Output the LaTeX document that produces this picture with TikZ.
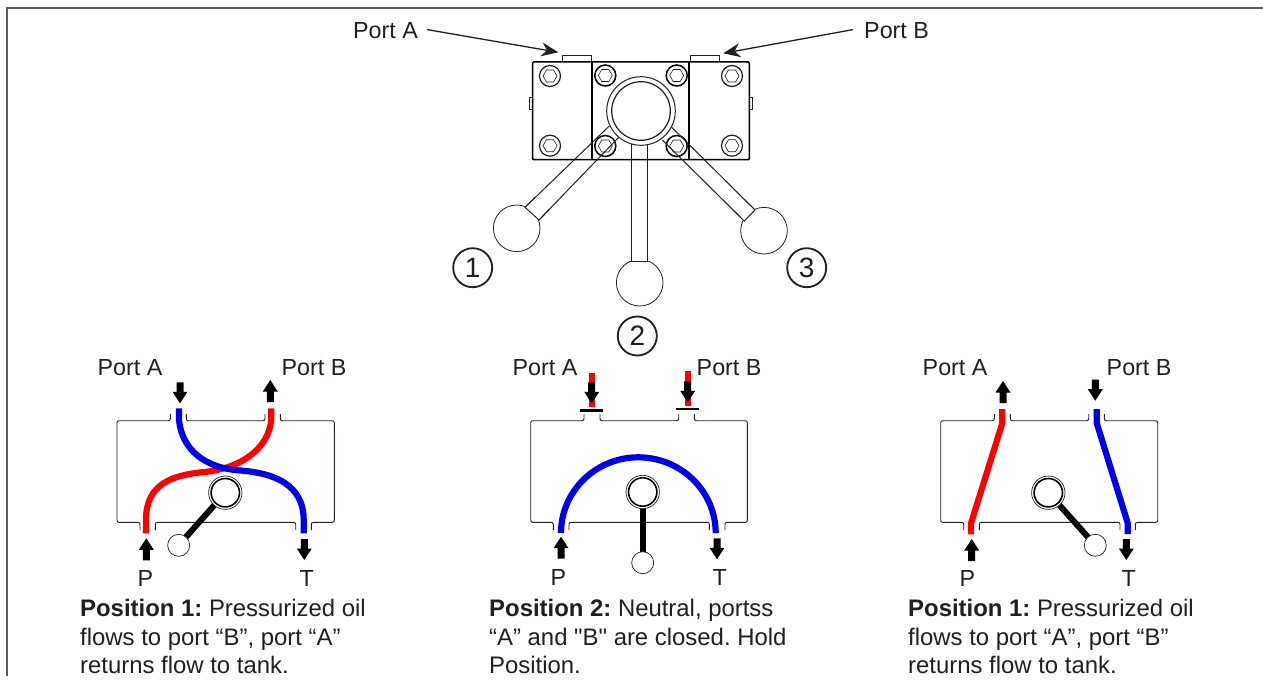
\documentclass[tikz,border=0pt]{standalone}
\usepackage{fontspec}
\setmainfont{Liberation Sans}
\newfontfamily\plainq{Liberation Sans}
\usetikzlibrary{arrows.meta}
\definecolor{tcol}{HTML}{231F20}
\tikzset{
  x=1pt,y=-1pt,
  wall/.style={draw=tcol,line width=0.9pt,rounded corners=2pt},
  hyd/.style={line width=6.2pt,line cap=butt},
  redflow/.style={hyd,draw=red},
  blueflow/.style={hyd,draw={rgb,255:red,0;green,0;blue,230}},
  lbl/.style={inner sep=0pt,font=\fontsize{23.3}{26}\selectfont,text=tcol},
  para/.style={inner sep=0pt,align=left,anchor=north west,text=tcol,font=\fontsize{23.9}{28.6}\selectfont\frenchspacing},
  numring/.style={circle,draw=tcol,line width=1.8pt,minimum size=39pt,inner sep=0pt,text=tcol,font=\fontsize{28}{30}\selectfont},
  leader/.style={draw=tcol,line width=1.3pt,-{Stealth[length=17pt,width=14pt]}},
  outline/.style={draw=tcol,line width=0.9pt},
  heavy/.style={draw=black,line width=1.5pt},
  arrdown/.pic={\fill[black] (-3.5,-21)--(3.5,-21)--(3.5,-11.5)--(7.5,-11.5)--(0,0)--(-7.5,-11.5)--(-3.5,-11.5)--cycle;},
  arrup/.pic={\fill[black] (-3.5,22)--(3.5,22)--(3.5,11.5)--(7.5,11.5)--(0,0)--(-7.5,11.5)--(-3.5,11.5)--cycle;},
  boltpic/.pic={\draw[#1] (0,0) circle (10.5pt);
    \draw[outline,line width=0.6pt] (7,0)--(3.5,6)--(-3.5,6)--(-7,0)--(-3.5,-6)--(3.5,-6)--cycle;},
}
% body outline: left right ta1 tb2 bp1 bp2 bt1 bt2
\newcommand{\valvebody}[8]{%
  \draw[wall] (#3,414) -- (#3,420.7) -- (#1,420.7) -- (#1,522.3) -- (#5,522.3) -- (#5,530);
  \draw[wall] (#6,530) -- (#6,522.3) -- (#7,522.3) -- (#7,530);
  \draw[wall] (#8,530) -- (#8,522.3) -- (#2,522.3) -- (#2,420.7) -- (#4,420.7) -- (#4,414)}
\begin{document}
\begin{tikzpicture}
\useasboundingbox (0,0) rectangle (1263,685);
\fill[white] (0,0) rectangle (1263,685);
% frame
\draw[draw=tcol!75,line width=1.7pt] (7,676) -- (7,8) -- (1263,8);

% ---- top view -----
\draw[outline,line width=1pt] (562.3,62) -- (562.3,55.5) -- (591.3,55.5) -- (591.3,62);
\draw[outline,line width=1pt] (690.7,62) -- (690.7,55.5) -- (719.3,55.5) -- (719.3,62);
\draw[outline,line width=0.8pt] (532.5,97.7) -- (529,97.7) -- (529,109.3) -- (532.5,109.3);
\draw[outline,line width=0.8pt] (749.5,97.7) -- (752.7,97.7) -- (752.7,109.3) -- (749.5,109.3);
\draw[heavy,fill=white,rounded corners=1pt] (532.7,62) rectangle (749.3,159.7);
\draw[heavy] (592,62) -- (592,159.7);
\draw[heavy] (689,62) -- (689,159.7);
\pic at (550,76) {boltpic={outline,line width=1.2pt}};
\pic at (732,76) {boltpic={outline,line width=1.2pt}};
\pic at (550,145.7) {boltpic={outline,line width=1.2pt}};
\pic at (732,145.7) {boltpic={outline,line width=1.2pt}};
\pic at (605.3,75.5) {boltpic={heavy}};
\pic at (676.7,75.5) {boltpic={heavy}};
\pic at (605.3,146) {boltpic={heavy}};
\pic at (676.7,146) {boltpic={heavy}};
% handles
\draw[outline,line width=1pt] (631.7,144) -- (631.7,261.7) -- (647.3,261.7) -- (647.3,144);
\draw[outline,line width=1pt] (609.3,126) -- (525,207.3) -- (539,220) -- (619.3,136.7);
\draw[outline,line width=1pt] (671.7,127.3) -- (755,210) -- (744.3,221) -- (662.3,140);
% hub
\draw[outline,line width=1pt,fill=white] (641,111) circle (34.3pt);
\draw[outline,line width=1.2pt,fill=white] (641,111) circle (29.3pt);
% knobs
\draw[outline,line width=0.8pt,fill=white] (639.7,282.7) circle (23.3pt);
\draw[outline,line width=0.8pt,fill=white] (516.7,228.3) circle (23.3pt);
\draw[outline,line width=0.8pt,fill=white] (764,230.7) circle (23.3pt);
\fill[white] (630,261.2) rectangle (649,256);
\fill[white] (525,207.3) -- (539,220) -- (543,216) -- (529,203) -- cycle;
\fill[white] (755,210) -- (744.3,221) -- (740.3,217) -- (751,206) -- cycle;
\draw[outline,line width=1pt] (631.7,250) -- (631.7,261.7) -- (647.3,261.7) -- (647.3,250);
\draw[outline,line width=1pt] (535,197.6) -- (525,207.3) -- (539,220) -- (549,209.6);
\draw[outline,line width=1pt] (745,200) -- (755,210) -- (744.3,221) -- (734,211);

% top labels
\node[lbl,anchor=base west] (topA) at (353,38.5) {Port A};
\node[lbl,anchor=base west] (topB) at (864,38.5) {Port B};
\coordinate (tipA) at (558.3,52.3);
\coordinate (tipB) at (723.3,53.3);
\draw[leader] (topA.east) ++(9,-1) -- (tipA);
\draw[leader] (topB.west) ++(-11,-1) -- (tipB);
\node[numring] (n1) at (472.7,267.7) {1};
\node[numring] (n2) at (637.3,336) {2};
\node[numring] (n3) at (806.7,267.7) {3};

% ---- Position 1 (left) -----
\valvebody{117}{334.3}{170.3}{280.3}{140}{155.3}{295.7}{311.3};
\draw[wall] (186.3,414) -- (186.3,420.7) -- (265,420.7) -- (265,414);
\draw[redflow] (271.3,408.3) -- (271.3,420) .. controls (268,450) and (240,468) .. (205,472) .. controls (170,475) and (146,485) .. (146,520) -- (146,533.3);
\draw[blueflow] (179,408.3) -- (179,420) .. controls (182,450) and (205,468) .. (240,470.5) .. controls (275,473) and (303.7,485) .. (303.7,520) -- (303.7,533.3);
\draw[black,line width=6pt] (225.3,492.7) -- (178.7,545.3);
\draw[outline,line width=0.7pt,fill=white] (178.7,545.3) circle (11pt);
\draw[outline,line width=0.7pt,fill=white] (225.3,492.7) circle (16.7pt);
\draw[black,line width=1.6pt,fill=white] (225.3,492.7) circle (14.2pt);
\pic at (180,403.3) {arrdown};
\pic at (270.3,380) {arrup};
\pic at (146.3,538.3) {arrup};
\pic at (304.3,560) {arrdown};
\node[lbl,anchor=base west] (a1) at (97.5,375) {Port A};
\node[lbl,anchor=base west] (b1) at (281.5,375) {Port B};
\node[lbl,anchor=base west] (p1) at (137.5,586) {P};
\node[lbl,anchor=base west] (t1) at (299.5,586) {T};
\node[para] (d1) at (80,599) {\textbf{Position 1:} Pressurized oil\\flows to port “B”, port “A”\\returns flow to tank.};

% ---- Position 2 (middle) -----
\valvebody{530.7}{747.3}{584}{694.3}{553.3}{569}{709.3}{725};
\draw[wall] (600,414) -- (600,420.7) -- (678.7,420.7) -- (678.7,414);
\draw[blueflow] (561,533) .. controls (561,491.3) and (595.6,457.3) .. (638.3,457.3) .. controls (681,457.3) and (715.7,491.3) .. (715.7,533);
\draw[redflow] (591.7,372.7) -- (591.7,407.3);
\draw[redflow] (687.7,371) -- (687.7,406);
\pic at (591.7,403.3) {arrdown};
\pic at (687.7,402.3) {arrdown};
\draw[black,line width=2.6pt] (580.3,410.7) -- (602.7,410.7);
\draw[black,line width=2.6pt] (676.3,409) -- (698.7,409);
\draw[black,line width=6pt] (642.7,492) -- (642.7,560);
\draw[outline,line width=0.7pt,fill=white] (642.7,562.7) circle (11pt);
\draw[outline,line width=0.7pt,fill=white] (642.7,492) circle (16.7pt);
\draw[black,line width=1.6pt,fill=white] (642.7,492) circle (14.2pt);
\pic at (561,536.7) {arrup};
\pic at (717,559.3) {arrdown};
\node[lbl,anchor=base west] (a2) at (512.5,375) {Port A};
\node[lbl,anchor=base west] (b2) at (696.5,375) {Port B};
\node[lbl,anchor=base west] (p2) at (550.5,585) {P};
\node[lbl,anchor=base west] (t2) at (712.5,585) {T};
\node[para] (d2) at (489,599) {\textbf{Position 2:} Neutral, portss\\“A” and {\plainq"}B{\plainq"} are closed. Hold\\Position.};

% ---- Position 3 (right) -----
\valvebody{940.7}{1157.7}{994.3}{1104.3}{963.7}{979.3}{1120}{1135.3};
\draw[wall] (1010.3,414) -- (1010.3,420.7) -- (1088.7,420.7) -- (1088.7,414);
\draw[redflow] (1002.3,409) -- (1002.3,423.3) -- (971,523.3) -- (971,534.3);
\draw[blueflow] (1096.7,409) -- (1096.7,423) -- (1127.7,523) -- (1127.7,534);
\draw[black,line width=6pt] (1048.3,492.7) -- (1095.3,545.3);
\draw[outline,line width=0.7pt,fill=white] (1095.3,545.3) circle (11pt);
\draw[outline,line width=0.7pt,fill=white] (1048.3,492.7) circle (16.7pt);
\draw[black,line width=1.6pt,fill=white] (1048.3,492.7) circle (14.2pt);
\pic at (1003,381) {arrup};
\pic at (1095.3,400.7) {arrdown};
\pic at (971.7,539) {arrup};
\pic at (1126.3,560) {arrdown};
\node[lbl,anchor=base west] (a3) at (922.5,375) {Port A};
\node[lbl,anchor=base west] (b3) at (1106.5,375) {Port B};
\node[lbl,anchor=base west] (p3) at (959.5,586) {P};
\node[lbl,anchor=base west] (t3) at (1121.5,586) {T};
\node[para] (d3) at (908,599) {\textbf{Position 1:} Pressurized oil\\flows to port “A”, port “B”\\returns flow to tank.};
\end{tikzpicture}
\end{document}
